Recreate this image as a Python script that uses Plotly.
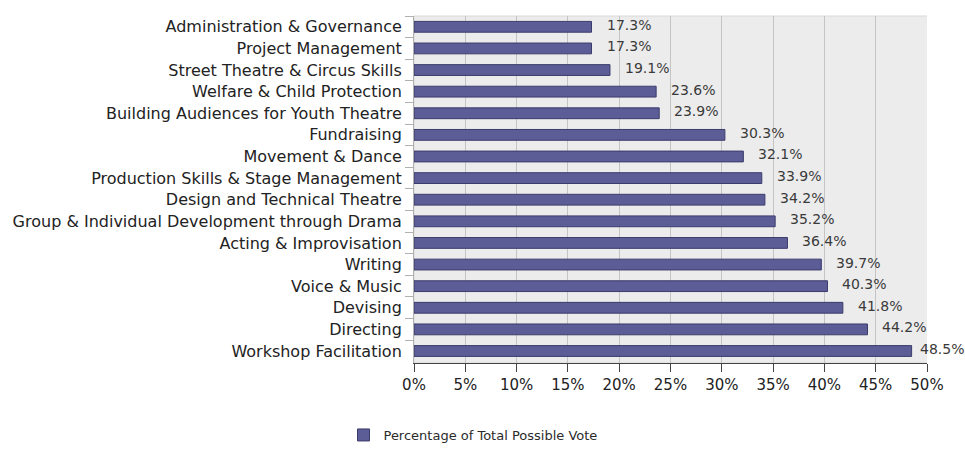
import plotly.graph_objects as go

categories = [
    "Administration & Governance",
    "Project Management",
    "Street Theatre & Circus Skills",
    "Welfare & Child Protection",
    "Building Audiences for Youth Theatre",
    "Fundraising",
    "Movement & Dance",
    "Production Skills & Stage Management",
    "Design and Technical Theatre",
    "Group & Individual Development through Drama",
    "Acting & Improvisation",
    "Writing",
    "Voice & Music",
    "Devising",
    "Directing",
    "Workshop Facilitation",
]
values = [17.3, 17.3, 19.1, 23.6, 23.9, 30.3, 32.1, 33.9, 34.2, 35.2,
          36.4, 39.7, 40.3, 41.8, 44.2, 48.5]
x_ticks = [0, 5, 10, 15, 20, 25, 30, 35, 40, 45, 50]
x_tick_labels = [f"{t}%" for t in x_ticks]
series_name = "Percentage of Total Possible Vote"

FONT = "DejaVu Sans"
W, H = 965, 472
L, R, T, B = 414, 38, 16, 109
X_MAX = 50

fig = go.Figure()
fig.add_trace(go.Bar(
    x=values,
    y=categories,
    orientation="h",
    name=series_name,
    width=0.5,
    marker=dict(color="#5c5c96", line=dict(color="#3c3c6c", width=1)),
    showlegend=True,
))

# value labels to the right of each bar; labels near the right edge hug the bar
for c, v in zip(categories, values):
    shift = 13 if v < X_MAX - 3 else 6
    fig.add_annotation(
        x=v, y=c, text=f"{v:.1f}%", showarrow=False,
        xanchor="left", yanchor="middle", xshift=shift, yshift=2,
        font=dict(family=FONT, size=14, color="#3a3a3a"),
    )

# slightly deeper background panel behind the grid
fig.add_shape(
    type="rect", xref="x", yref="paper",
    x0=0, x1=50.9, y0=0, y1=1.0,
    fillcolor="#ececec", line=dict(color="#d8d8d8", width=1),
    layer="below",
)

fig.update_layout(
    width=W, height=H,
    margin=dict(l=L, r=R, t=T, b=B),
    paper_bgcolor="white",
    plot_bgcolor="white",
    font=dict(family=FONT, size=13, color="#222222"),
    xaxis=dict(
        range=[0, X_MAX],
        tickvals=x_ticks,
        ticktext=x_tick_labels,
        showgrid=True, gridcolor="#c4c4c4", gridwidth=1,
        zeroline=False,
        showline=True, linecolor="#444444", linewidth=1,
        ticks="outside", ticklen=8, tickcolor="#444444",
        tickfont=dict(family=FONT, size=15, color="#222222"),
        fixedrange=True,
    ),
    yaxis=dict(
        autorange="reversed",
        showgrid=False,
        showline=True, linecolor="#b0b0b0", linewidth=1,
        ticks="outside", ticklen=8, tickcolor="#b0b0b0",
        tickson="boundaries",
        ticklabelstandoff=8,
        tickfont=dict(family=FONT, size=16, color="#222222"),
        fixedrange=True,
    ),
    bargap=0.5,
    legend=dict(
        orientation="h",
        x=(473 - L) / (W - L - R), xanchor="center",
        y=(H - B - 435) / (H - T - B), yanchor="middle",
        font=dict(family=FONT, size=13, color="#2b2b2b"),
        itemwidth=30,
        bgcolor="rgba(0,0,0,0)",
    ),
)

fig.write_html("out.html")
